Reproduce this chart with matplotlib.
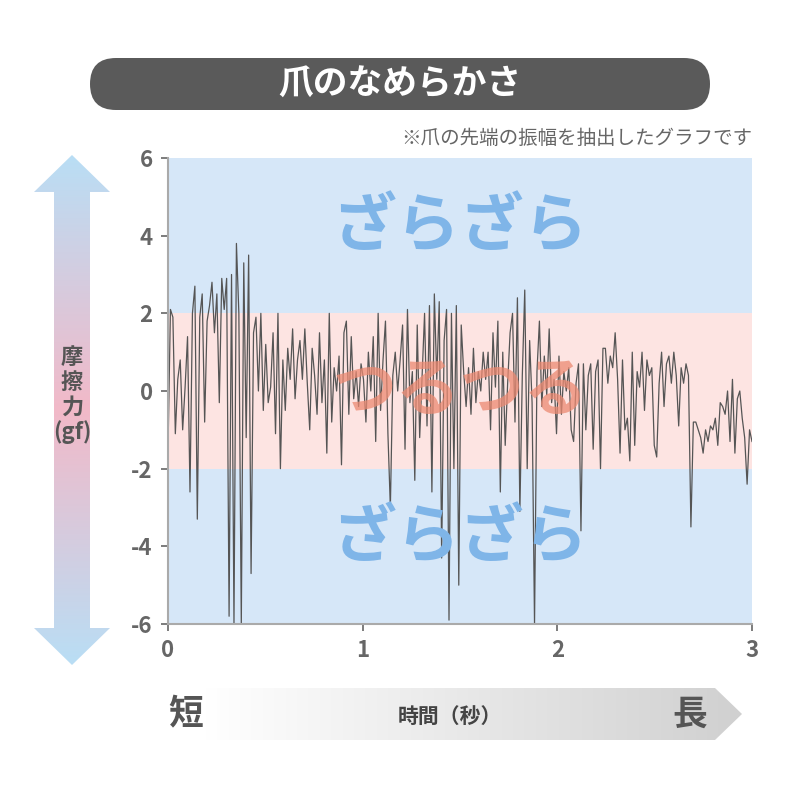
import numpy as np
import matplotlib.pyplot as plt
from matplotlib.patches import FancyBboxPatch, Polygon
from matplotlib.colors import LinearSegmentedColormap

plt.rcParams['font.family'] = ['Noto Sans CJK JP', 'DejaVu Sans']
plt.rcParams['axes.unicode_minus'] = False

# friction signal (gf), 240 samples over 3 s
friction = [
    -1.5, 2.1, 1.9, -1.1, 0.3, 0.8, -1.0, 0.1, 1.4, -2.6, 2.0, 2.7, -3.3, 1.9, 2.5, -0.8, 1.8, 2.2, 2.8, 1.5,
    2.5, -0.3, 2.9, 2.1, 2.9, -5.8, 3.0, -6.0, 3.8, 2.0, -6.0, 3.3, -1.2, 3.5, -4.7, 1.5, 1.9, 0.0, 2.0, -0.5,
    1.2, -0.3, 0.1, 1.5, -1.1, 2.0, -2.0, 0.8, -0.5, 1.1, 0.3, 1.6, -0.2, 0.8, 1.3, 0.3, 1.6, 0.2, -1.0, 1.1,
    0.4, -0.6, 1.5, -0.3, 0.8, -1.6, 2.0, -0.8, 0.6, 0.0, 0.9, -1.9, 1.5, 1.8, -0.6, 1.4, -0.2, 0.5, -0.4, 0.7,
    0.3, -0.8, 1.0, 0.0, 1.4, -1.3, 2.0, -0.5, 0.8, 1.8, -1.1, -3.0, 0.4, 1.0, 0.0, 0.8, 1.7, -1.5, 2.1, -0.3,
    0.5, -2.3, 1.7, -1.2, 0.4, 2.0, -0.9, 2.2, -2.6, 2.5, 0.3, 2.3, -4.3, 1.3, 2.1, -5.9, 2.0, -2.0, 2.2, -5.0,
    1.7, 0.5, -0.4, 0.6, -0.6, 1.1, -0.3, 0.5, 0.0, 1.0, 0.3, 1.0, -1.0, 1.5, 0.1, 1.8, -2.6, 1.0, -1.4, 0.2,
    1.5, 2.0, -0.8, 2.4, -3.1, 0.4, 2.6, -2.0, 1.3, -0.3, -6.0, 0.5, 1.8, -0.4, 0.9, -0.1, 1.6, -0.3, 0.3, -1.1,
    0.9, -0.6, 0.5, 0.0, 0.6, -1.0, -1.3, 0.2, 0.7, -3.6, 0.7, -1.0, 0.4, 0.7, -1.5, 0.5, 0.8, -2.0, 1.1, 1.1,
    0.2, 0.9, 0.6, 1.5, 0.3, -1.6, 0.8, -1.0, -0.7, -1.8, 1.0, -1.4, 0.5, 0.1, 1.0, -0.5, 0.8, 0.4, 0.6, -1.4,
    -1.7, 0.2, 1.0, -0.4, 0.7, 0.9, 0.2, 1.0, 0.4, -0.9, 0.6, 0.2, 0.7, 0.4, -3.5, -0.8, -0.8, -1.0, -1.2, -1.6,
    -1.0, -1.3, -0.9, -1.0, -0.7, -1.4, -0.3, -0.4, -0.6, 0.0, -1.3, 0.3, -1.6, -0.2, 0.0, -0.7, -1.2, -2.4, -1.0, -1.3,
]
duration = 3.0
times = np.linspace(0, duration, len(friction))
y_ticks = [-6, -4, -2, 0, 2, 4, 6]
x_ticks = [0, 1, 2, 3]

GRAY = '#666666'
fig = plt.figure(figsize=(8, 8), dpi=100)

# overlay in pixel coordinates for decorations
deco = fig.add_axes([0, 0, 1, 1], zorder=0)
deco.set_xlim(0, 800)
deco.set_ylim(800, 0)
deco.axis('off')

# title pill
pill = FancyBboxPatch((90, 58), 620, 52, boxstyle="round,pad=0,rounding_size=26",
                      fc='#5a5a5a', ec='none')
deco.add_patch(pill)
deco.text(400, 84, '爪のなめらかさ', color='white', fontsize=25, fontweight='bold',
          ha='center', va='center')
deco.text(752, 138, '※爪の先端の振幅を抽出したグラフです', color=GRAY, fontsize=14,
          ha='right', va='center')

# vertical gradient arrow
v_cmap = LinearSegmentedColormap.from_list('v', ['#b9def5', '#f2b9c8', '#b9def5'])
v_poly = Polygon([(72, 155), (110, 192), (90, 192), (90, 628), (110, 628), (72, 665),
                  (34, 628), (54, 628), (54, 192), (34, 192)], closed=True, fc='none', ec='none')
deco.add_patch(v_poly)
grad = np.linspace(0, 1, 256).reshape(-1, 1)
im = deco.imshow(grad, cmap=v_cmap, extent=(34, 110, 665, 155), aspect='auto')
im.set_clip_path(v_poly)
deco.text(72, 395, '摩\n擦\n力\n(gf)', color='#555555', fontsize=16, fontweight='bold',
          ha='center', va='center', linespacing=1.1)

# horizontal gradient arrow
h_cmap = LinearSegmentedColormap.from_list('h', ['#ffffff', '#d0d0d0'])
h_poly = Polygon([(205, 688), (715, 688), (742, 714), (715, 740), (205, 740)],
                 closed=True, fc='none', ec='none')
deco.add_patch(h_poly)
im2 = deco.imshow(grad.T, cmap=h_cmap, extent=(205, 742, 740, 688), aspect='auto')
im2.set_clip_path(h_poly)
deco.text(186, 714, '短', color='#555555', fontsize=25, fontweight='bold', ha='center', va='center')
deco.text(690, 714, '長', color='#555555', fontsize=25, fontweight='bold', ha='center', va='center')
deco.text(450, 716, '時間（秒）', color='#444444', fontsize=15, fontweight='bold',
          ha='center', va='center')

# main chart
ax = fig.add_axes([0.21, 0.22, 0.73, 0.5825], zorder=1)
ax.axhspan(2, 6, color='#d6e7f8', lw=0)
ax.axhspan(-2, 2, color='#fde4e2', lw=0)
ax.axhspan(-6, -2, color='#d6e7f8', lw=0)
ax.text(1.5, 4.2, 'ざらざら', color='#7fb5e8', fontsize=46, fontweight='bold',
        ha='center', va='center')
ax.text(1.5, -3.8, 'ざらざら', color='#7fb5e8', fontsize=46, fontweight='bold',
        ha='center', va='center')
ax.plot(times, friction, color='#555555', lw=0.9)
ax.text(1.5, 0.0, 'つるつる', color='#ec8a72', fontsize=46, fontweight='bold',
        ha='center', va='center', alpha=0.75)

ax.set_xlim(0, duration)
ax.set_ylim(-6, 6)
ax.set_xticks(x_ticks)
ax.set_yticks(y_ticks)
ax.tick_params(colors=GRAY, labelsize=16, length=5, width=1.2, pad=6)
for lab in ax.get_xticklabels() + ax.get_yticklabels():
    lab.set_fontweight('bold')
for s in ['top', 'right']:
    ax.spines[s].set_visible(False)
for s in ['left', 'bottom']:
    ax.spines[s].set_color('#aaaaaa')
    ax.spines[s].set_linewidth(1.5)

fig.savefig('out.png', dpi=100)
